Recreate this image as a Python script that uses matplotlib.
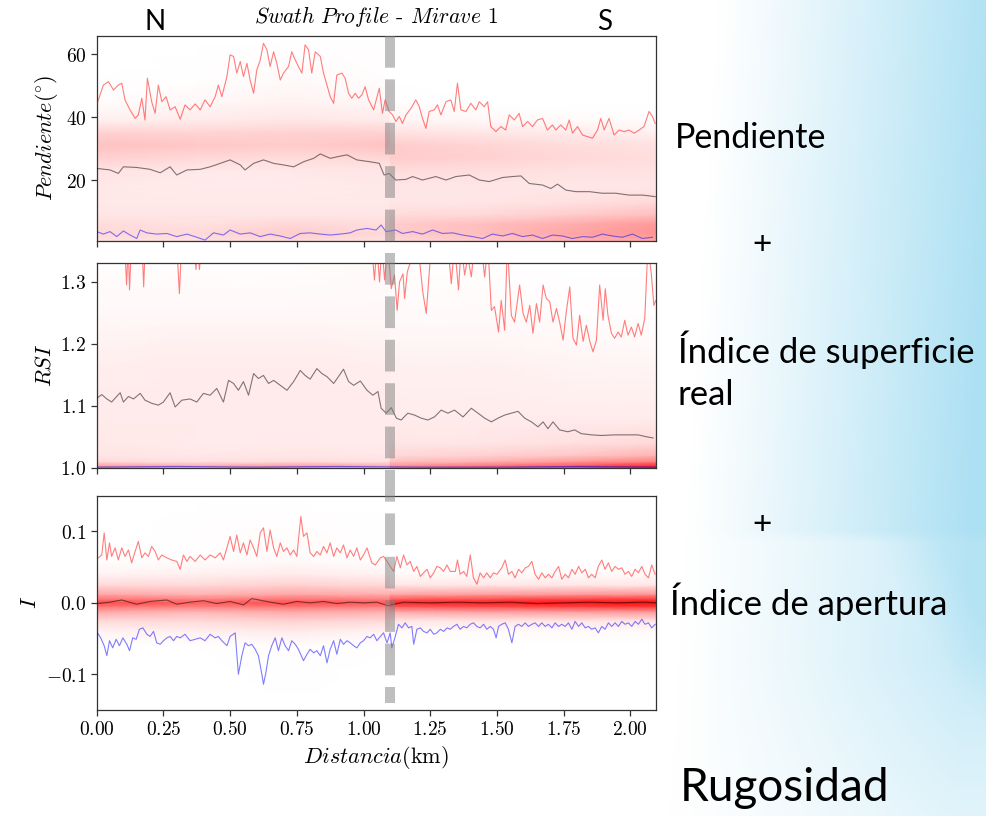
import numpy as np
import matplotlib
matplotlib.use('Agg')
import matplotlib.pyplot as plt
from matplotlib.colors import LinearSegmentedColormap
from matplotlib.lines import Line2D
from matplotlib.transforms import blended_transform_factory

# ---------------- data ----------------
# Pendiente: max (red), mean (grey), min (blue)
p_max_km = [0.000, 0.025, 0.044, 0.063, 0.081, 0.094, 0.106, 0.125, 0.144, 0.156, 0.169, 0.181, 0.190, 0.206,
            0.219, 0.231, 0.244, 0.260, 0.275, 0.294, 0.313, 0.331, 0.350, 0.369, 0.388, 0.406, 0.425, 0.444,
            0.456, 0.469, 0.488, 0.500, 0.513, 0.525, 0.538, 0.550, 0.563, 0.575, 0.588, 0.600, 0.613, 0.625,
            0.638, 0.650, 0.663, 0.675, 0.688, 0.700, 0.719, 0.731, 0.744, 0.756, 0.769, 0.781, 0.794, 0.806,
            0.819, 0.838, 0.850, 0.863, 0.875, 0.888, 0.900, 0.919, 0.931, 0.944, 0.956, 0.969, 0.981, 0.994,
            1.006, 1.019, 1.038, 1.059, 1.071, 1.081, 1.096, 1.109, 1.121, 1.134, 1.146, 1.159, 1.178, 1.196,
            1.209, 1.221, 1.234, 1.246, 1.265, 1.277, 1.290, 1.309, 1.327, 1.340, 1.352, 1.365, 1.384, 1.402,
            1.421, 1.434, 1.452, 1.465, 1.477, 1.496, 1.515, 1.533, 1.546, 1.565, 1.583, 1.596, 1.615, 1.633,
            1.652, 1.671, 1.689, 1.708, 1.721, 1.739, 1.758, 1.771, 1.783, 1.802, 1.821, 1.839, 1.858, 1.877,
            1.889, 1.902, 1.920, 1.939, 1.958, 1.977, 1.995, 2.014, 2.033, 2.051, 2.070, 2.083, 2.093]
p_max = [43.9, 50.2, 51.3, 48.6, 50.2, 50.8, 45.5, 42.3, 39.6, 40.7, 46.0, 39.1, 52.4, 44.9,
         41.2, 50.2, 44.9, 46.5, 42.3, 43.3, 39.3, 43.9, 42.3, 44.2, 42.3, 45.5, 43.3, 46.5,
         50.2, 46.5, 52.9, 59.8, 59.3, 54.0, 57.7, 52.9, 57.1, 51.8, 47.6, 55.0, 58.2, 63.5,
         61.4, 56.1, 60.8, 57.1, 51.8, 54.0, 56.1, 60.8, 58.2, 56.1, 54.0, 63.0, 61.4, 54.0,
         60.8, 59.3, 54.0, 50.2, 46.5, 44.4, 53.4, 54.0, 52.4, 47.6, 46.0, 47.6, 46.0, 47.1,
         49.7, 45.5, 42.3, 49.2, 41.2, 45.5, 41.8, 40.7, 38.6, 40.2, 38.0, 40.7, 42.8, 45.5,
         43.3, 39.6, 36.4, 41.8, 42.3, 43.9, 40.7, 44.9, 45.5, 41.8, 50.8, 42.3, 41.8, 44.4,
         42.3, 44.9, 43.3, 44.9, 37.0, 35.4, 37.0, 35.9, 40.7, 39.1, 41.2, 37.0, 38.6, 37.0,
         39.1, 39.6, 35.9, 37.5, 35.9, 37.5, 35.9, 39.1, 34.9, 37.0, 34.3, 33.8, 33.3, 35.9,
         39.6, 35.9, 39.6, 34.3, 35.9, 35.4, 35.9, 34.9, 35.9, 37.0, 41.8, 40.2, 38.0]
p_mean_km = [0.000, 0.050, 0.081, 0.100, 0.150, 0.200, 0.238, 0.275, 0.300, 0.338, 0.388, 0.425, 0.463,
             0.500, 0.538, 0.556, 0.588, 0.625, 0.663, 0.700, 0.738, 0.775, 0.813, 0.838, 0.875, 0.913,
             0.938, 0.975, 1.025, 1.059, 1.077, 1.096, 1.121, 1.159, 1.184, 1.221, 1.271, 1.309, 1.346,
             1.396, 1.434, 1.471, 1.521, 1.558, 1.590, 1.621, 1.671, 1.702, 1.727, 1.758, 1.796, 1.846,
             1.895, 1.945, 1.995, 2.045, 2.077, 2.093]
p_mean = [23.7, 23.2, 22.1, 24.2, 24.0, 23.4, 22.3, 24.2, 21.6, 23.2, 23.4, 24.2, 25.3,
          26.4, 24.8, 23.2, 25.3, 26.4, 25.3, 24.8, 24.2, 25.8, 26.9, 28.3, 26.9, 27.6,
          28.0, 26.4, 25.8, 25.3, 21.6, 22.1, 20.0, 20.2, 21.1, 20.0, 21.1, 20.0, 21.1,
          21.6, 20.0, 19.5, 20.8, 21.1, 21.3, 18.9, 18.4, 17.3, 18.7, 16.8, 16.3, 16.3,
          15.8, 15.8, 15.2, 15.2, 14.9, 14.7]
p_min_km = [0.000, 0.025, 0.050, 0.075, 0.100, 0.125, 0.150, 0.163, 0.188, 0.225, 0.263, 0.300, 0.338,
            0.375, 0.406, 0.438, 0.475, 0.500, 0.538, 0.575, 0.613, 0.650, 0.688, 0.725, 0.763, 0.800,
            0.838, 0.875, 0.913, 0.950, 0.975, 1.013, 1.047, 1.066, 1.084, 1.121, 1.146, 1.184, 1.221,
            1.259, 1.296, 1.334, 1.371, 1.409, 1.446, 1.483, 1.521, 1.558, 1.596, 1.633, 1.671, 1.708,
            1.746, 1.783, 1.821, 1.858, 1.895, 1.933, 1.970, 2.008, 2.045, 2.083]
p_min = [3.6, 2.8, 3.6, 2.0, 3.8, 2.5, 1.4, 4.1, 3.2, 2.8, 3.0, 2.0, 2.8,
         1.8, 0.9, 3.2, 2.5, 4.1, 2.8, 3.2, 2.0, 2.8, 2.2, 1.4, 3.0, 3.2,
         2.8, 2.5, 2.8, 3.2, 4.1, 4.6, 4.1, 5.7, 3.6, 4.1, 3.0, 3.6, 2.8,
         4.1, 3.0, 3.2, 2.5, 2.0, 1.4, 2.8, 2.2, 3.0, 2.0, 2.5, 1.4, 2.5,
         2.2, 1.4, 2.0, 1.8, 2.8, 2.2, 1.8, 2.8, 1.4, 1.8]

# RSI: max (red, partly above the axis), mean, min
r_max_km = [0.000, 0.105, 0.112, 0.118, 0.123, 0.130, 0.170, 0.176, 0.182, 0.300, 0.310, 0.318, 0.365,
            0.372, 0.378, 0.385, 0.392, 1.030, 1.041, 1.050, 1.060, 1.069, 1.079, 1.091, 1.104, 1.116,
            1.126, 1.135, 1.148, 1.154, 1.164, 1.172, 1.204, 1.222, 1.235, 1.241, 1.254, 1.316, 1.329,
            1.341, 1.356, 1.366, 1.379, 1.391, 1.404, 1.416, 1.441, 1.454, 1.466, 1.479, 1.491, 1.506,
            1.516, 1.529, 1.539, 1.554, 1.566, 1.585, 1.598, 1.610, 1.623, 1.635, 1.648, 1.660, 1.673,
            1.685, 1.698, 1.710, 1.723, 1.735, 1.748, 1.760, 1.773, 1.785, 1.798, 1.810, 1.823, 1.835,
            1.848, 1.860, 1.873, 1.885, 1.898, 1.906, 1.916, 1.929, 1.941, 1.954, 1.966, 1.979, 1.991,
            2.004, 2.016, 2.029, 2.041, 2.054, 2.066, 2.079, 2.088, 2.095]
r_max = [1.36, 1.36, 1.295, 1.36, 1.287, 1.36, 1.36, 1.292, 1.36, 1.36, 1.281, 1.36, 1.36,
         1.32, 1.36, 1.32, 1.36, 1.36, 1.303, 1.36, 1.300, 1.36, 1.303, 1.36, 1.289, 1.311,
         1.254, 1.300, 1.313, 1.273, 1.316, 1.327, 1.36, 1.284, 1.249, 1.284, 1.36, 1.36, 1.297,
         1.36, 1.287, 1.36, 1.311, 1.34, 1.308, 1.36, 1.36, 1.308, 1.36, 1.254, 1.260, 1.219,
         1.270, 1.222, 1.36, 1.246, 1.235, 1.295, 1.249, 1.235, 1.262, 1.217, 1.265, 1.235, 1.295,
         1.273, 1.268, 1.235, 1.257, 1.235, 1.206, 1.252, 1.292, 1.209, 1.198, 1.246, 1.204, 1.230,
         1.204, 1.187, 1.206, 1.295, 1.238, 1.289, 1.246, 1.217, 1.209, 1.219, 1.211, 1.238, 1.214,
         1.227, 1.211, 1.233, 1.214, 1.241, 1.36, 1.311, 1.262, 1.270]
r_mean_km = [0.000, 0.019, 0.038, 0.056, 0.075, 0.088, 0.100, 0.119, 0.138, 0.163, 0.181, 0.206, 0.231,
             0.250, 0.275, 0.294, 0.319, 0.350, 0.375, 0.400, 0.425, 0.450, 0.475, 0.494, 0.513, 0.531,
             0.550, 0.569, 0.588, 0.606, 0.625, 0.644, 0.663, 0.688, 0.713, 0.738, 0.763, 0.781, 0.800,
             0.825, 0.844, 0.863, 0.888, 0.906, 0.925, 0.944, 0.963, 0.988, 1.013, 1.035, 1.054, 1.066,
             1.085, 1.104, 1.123, 1.141, 1.166, 1.191, 1.216, 1.241, 1.266, 1.291, 1.316, 1.341, 1.373,
             1.404, 1.429, 1.454, 1.479, 1.504, 1.529, 1.554, 1.579, 1.604, 1.629, 1.654, 1.673, 1.691,
             1.710, 1.735, 1.766, 1.791, 1.816, 1.854, 1.891, 1.941, 1.991, 2.029, 2.060, 2.085]
r_mean = [1.112, 1.118, 1.111, 1.106, 1.115, 1.121, 1.106, 1.115, 1.111, 1.120, 1.109, 1.104, 1.101,
          1.106, 1.121, 1.098, 1.109, 1.111, 1.106, 1.120, 1.117, 1.128, 1.106, 1.141, 1.136, 1.125,
          1.139, 1.117, 1.152, 1.144, 1.149, 1.136, 1.141, 1.133, 1.125, 1.139, 1.157, 1.149, 1.143,
          1.160, 1.152, 1.147, 1.136, 1.147, 1.159, 1.139, 1.133, 1.140, 1.125, 1.117, 1.123, 1.096,
          1.088, 1.097, 1.080, 1.077, 1.088, 1.085, 1.080, 1.077, 1.082, 1.093, 1.088, 1.093, 1.082,
          1.096, 1.088, 1.080, 1.074, 1.080, 1.085, 1.088, 1.091, 1.080, 1.074, 1.066, 1.074, 1.063,
          1.074, 1.061, 1.058, 1.061, 1.055, 1.053, 1.052, 1.053, 1.053, 1.053, 1.050, 1.048]
r_min_km = [0.0, 0.3, 0.6, 0.9, 1.2, 1.5, 1.8, 2.1]
r_min = [1.001, 1.002, 1.001, 1.002, 1.001, 1.001, 1.002, 1.001]

# Indice de apertura: max, mean, min
i_max_km = [0.006, 0.019, 0.028, 0.038, 0.048, 0.056, 0.069, 0.081, 0.094, 0.106, 0.119, 0.131, 0.144,
            0.156, 0.169, 0.181, 0.194, 0.206, 0.219, 0.231, 0.244, 0.263, 0.281, 0.300, 0.313, 0.325,
            0.338, 0.350, 0.369, 0.388, 0.406, 0.425, 0.444, 0.463, 0.475, 0.488, 0.500, 0.513, 0.525,
            0.538, 0.550, 0.563, 0.575, 0.588, 0.600, 0.613, 0.625, 0.638, 0.650, 0.663, 0.675, 0.688,
            0.700, 0.713, 0.725, 0.738, 0.750, 0.765, 0.775, 0.788, 0.800, 0.813, 0.825, 0.838, 0.850,
            0.863, 0.875, 0.888, 0.900, 0.913, 0.925, 0.938, 0.950, 0.963, 0.975, 0.988, 1.000, 1.013,
            1.031, 1.044, 1.063, 1.075, 1.088, 1.100, 1.113, 1.125, 1.138, 1.150, 1.163, 1.175, 1.188,
            1.200, 1.213, 1.225, 1.238, 1.250, 1.263, 1.275, 1.288, 1.300, 1.313, 1.325, 1.344, 1.352,
            1.362, 1.375, 1.387, 1.400, 1.412, 1.425, 1.437, 1.450, 1.462, 1.475, 1.487, 1.500, 1.518,
            1.531, 1.543, 1.556, 1.568, 1.581, 1.593, 1.606, 1.618, 1.631, 1.643, 1.656, 1.668, 1.681,
            1.693, 1.706, 1.718, 1.731, 1.743, 1.756, 1.768, 1.781, 1.793, 1.806, 1.818, 1.831, 1.843,
            1.855, 1.868, 1.880, 1.893, 1.905, 1.918, 1.930, 1.943, 1.955, 1.968, 1.980, 1.993, 2.005,
            2.018, 2.030, 2.043, 2.055, 2.068, 2.080, 2.093]
i_max = [0.063, 0.067, 0.098, 0.060, 0.084, 0.065, 0.077, 0.060, 0.077, 0.065, 0.074, 0.056, 0.072,
         0.086, 0.063, 0.070, 0.065, 0.079, 0.072, 0.060, 0.067, 0.063, 0.060, 0.058, 0.047, 0.067,
         0.058, 0.065, 0.058, 0.067, 0.060, 0.067, 0.063, 0.070, 0.060, 0.077, 0.093, 0.072, 0.095,
         0.070, 0.084, 0.067, 0.088, 0.077, 0.065, 0.098, 0.105, 0.072, 0.102, 0.077, 0.065, 0.084,
         0.072, 0.077, 0.067, 0.074, 0.065, 0.121, 0.093, 0.098, 0.070, 0.065, 0.072, 0.067, 0.079,
         0.070, 0.084, 0.065, 0.077, 0.070, 0.081, 0.063, 0.074, 0.065, 0.077, 0.060, 0.067, 0.077,
         0.056, 0.053, 0.063, 0.065, 0.058, 0.051, 0.044, 0.065, 0.049, 0.067, 0.053, 0.058, 0.044,
         0.051, 0.037, 0.042, 0.047, 0.035, 0.042, 0.051, 0.049, 0.044, 0.053, 0.044, 0.044, 0.060,
         0.040, 0.044, 0.037, 0.067, 0.035, 0.026, 0.042, 0.035, 0.042, 0.035, 0.042, 0.040, 0.049,
         0.060, 0.040, 0.044, 0.035, 0.047, 0.042, 0.049, 0.051, 0.058, 0.040, 0.033, 0.042, 0.035,
         0.040, 0.035, 0.044, 0.051, 0.033, 0.040, 0.035, 0.047, 0.040, 0.051, 0.042, 0.047, 0.035,
         0.040, 0.035, 0.051, 0.060, 0.047, 0.056, 0.044, 0.051, 0.047, 0.049, 0.040, 0.044, 0.037,
         0.047, 0.042, 0.051, 0.040, 0.035, 0.053, 0.040]
i_mean_km = [0.0, 0.05, 0.094, 0.15, 0.2, 0.263, 0.3, 0.35, 0.4, 0.45, 0.5, 0.55, 0.581, 0.65, 0.7, 0.75,
             0.8, 0.85, 0.9, 0.95, 1.0, 1.05, 1.09, 1.15, 1.25, 1.35, 1.45, 1.55, 1.65, 1.75, 1.85, 1.95,
             2.05, 2.1]
i_mean = [-0.001, 0.001, 0.004, -0.002, 0.002, 0.004, -0.002, 0.001, 0.003, -0.001, 0.002, -0.003, 0.006,
          0.001, -0.002, 0.002, 0.0, 0.002, -0.001, 0.001, 0.0, 0.001, -0.004, 0.001, 0.0, 0.001, 0.0,
          0.001, -0.001, 0.0, 0.001, 0.0, 0.001, 0.0]
i_min_km = [0.003, 0.015, 0.028, 0.038, 0.048, 0.060, 0.073, 0.085, 0.098, 0.113, 0.123, 0.135, 0.148,
            0.160, 0.173, 0.188, 0.200, 0.213, 0.225, 0.238, 0.250, 0.263, 0.275, 0.288, 0.300, 0.313,
            0.331, 0.350, 0.369, 0.388, 0.406, 0.425, 0.444, 0.456, 0.469, 0.488, 0.500, 0.519, 0.531,
            0.544, 0.556, 0.569, 0.581, 0.594, 0.606, 0.619, 0.625, 0.634, 0.644, 0.656, 0.669, 0.681,
            0.694, 0.706, 0.719, 0.731, 0.744, 0.756, 0.775, 0.788, 0.800, 0.813, 0.825, 0.838, 0.850,
            0.863, 0.875, 0.888, 0.900, 0.913, 0.925, 0.938, 0.950, 0.963, 0.975, 0.988, 1.000, 1.013,
            1.025, 1.038, 1.050, 1.063, 1.075, 1.088, 1.100, 1.106, 1.119, 1.131, 1.144, 1.156, 1.169,
            1.181, 1.188, 1.200, 1.213, 1.225, 1.238, 1.250, 1.263, 1.275, 1.288, 1.300, 1.313, 1.325,
            1.337, 1.350, 1.362, 1.375, 1.387, 1.400, 1.412, 1.425, 1.437, 1.450, 1.462, 1.475, 1.487,
            1.497, 1.506, 1.518, 1.531, 1.543, 1.556, 1.568, 1.581, 1.593, 1.606, 1.618, 1.631, 1.643,
            1.656, 1.668, 1.681, 1.693, 1.706, 1.718, 1.731, 1.743, 1.756, 1.768, 1.781, 1.793, 1.806,
            1.818, 1.831, 1.843, 1.855, 1.868, 1.880, 1.893, 1.905, 1.918, 1.930, 1.943, 1.955, 1.968,
            1.980, 1.993, 2.005, 2.018, 2.030, 2.043, 2.055, 2.068, 2.080, 2.093]
i_min = [-0.042, -0.049, -0.060, -0.074, -0.053, -0.063, -0.051, -0.060, -0.049, -0.058, -0.067, -0.049, -0.051,
         -0.037, -0.035, -0.044, -0.047, -0.040, -0.056, -0.058, -0.053, -0.049, -0.047, -0.053, -0.047, -0.049,
         -0.044, -0.053, -0.051, -0.049, -0.053, -0.044, -0.049, -0.047, -0.053, -0.060, -0.047, -0.042, -0.100,
         -0.074, -0.056, -0.060, -0.058, -0.065, -0.074, -0.100, -0.114, -0.098, -0.074, -0.060, -0.049, -0.067,
         -0.049, -0.060, -0.067, -0.053, -0.058, -0.065, -0.081, -0.072, -0.065, -0.070, -0.067, -0.074, -0.060,
         -0.084, -0.065, -0.053, -0.072, -0.051, -0.058, -0.053, -0.056, -0.060, -0.063, -0.056, -0.053, -0.047,
         -0.049, -0.044, -0.053, -0.047, -0.042, -0.056, -0.042, -0.063, -0.047, -0.030, -0.035, -0.028, -0.035,
         -0.033, -0.058, -0.037, -0.035, -0.040, -0.042, -0.037, -0.044, -0.042, -0.037, -0.040, -0.035, -0.037,
         -0.033, -0.030, -0.037, -0.033, -0.035, -0.030, -0.028, -0.033, -0.035, -0.030, -0.037, -0.033, -0.037,
         -0.049, -0.033, -0.030, -0.028, -0.037, -0.056, -0.033, -0.030, -0.033, -0.028, -0.033, -0.030, -0.028,
         -0.033, -0.028, -0.033, -0.030, -0.035, -0.028, -0.033, -0.030, -0.033, -0.028, -0.037, -0.026, -0.033,
         -0.028, -0.035, -0.033, -0.037, -0.035, -0.042, -0.033, -0.037, -0.028, -0.033, -0.028, -0.033, -0.026,
         -0.030, -0.028, -0.033, -0.026, -0.030, -0.023, -0.030, -0.028, -0.035, -0.030]

# density of the swath (0 = white, 1 = full red), west and east of the 1.1 km break
dens_km_w = [0.0, 0.37, 0.73, 1.1]
dens_km_e = [1.1, 1.43, 1.77, 2.1]

p_dens_y = [0.7, 3, 6, 9, 13, 18, 23, 27, 31, 35, 39, 45, 52, 66]
p_dens_w = [[0.12, 0.12, 0.15, 0.12], [0.15, 0.15, 0.20, 0.15], [0.14, 0.12, 0.16, 0.13],
            [0.10, 0.10, 0.10, 0.10], [0.09, 0.09, 0.09, 0.09], [0.09, 0.08, 0.08, 0.09],
            [0.11, 0.09, 0.09, 0.10], [0.18, 0.15, 0.14, 0.16], [0.24, 0.22, 0.20, 0.24],
            [0.18, 0.17, 0.18, 0.18], [0.06, 0.08, 0.10, 0.08], [0.01, 0.03, 0.05, 0.03],
            [0.00, 0.005, 0.02, 0.01], [0.0, 0.0, 0.0, 0.0]]
p_dens_e = [[0.15, 0.20, 0.30, 0.35], [0.20, 0.25, 0.35, 0.42], [0.20, 0.25, 0.32, 0.40],
            [0.14, 0.15, 0.20, 0.25], [0.10, 0.10, 0.12, 0.15], [0.10, 0.10, 0.10, 0.10],
            [0.14, 0.13, 0.12, 0.12], [0.20, 0.18, 0.15, 0.13], [0.20, 0.17, 0.14, 0.12],
            [0.12, 0.10, 0.08, 0.06], [0.04, 0.03, 0.02, 0.01], [0.01, 0.0, 0.0, 0.0],
            [0.0, 0.0, 0.0, 0.0], [0.0, 0.0, 0.0, 0.0]]

r_dens_y = [1.0, 1.004, 1.01, 1.02, 1.04, 1.08, 1.12, 1.16, 1.2, 1.25, 1.33]
r_dens_w = [[0.45, 0.40, 0.45, 0.35], [0.35, 0.30, 0.35, 0.30], [0.15, 0.12, 0.14, 0.12],
            [0.10, 0.09, 0.10, 0.09], [0.09, 0.08, 0.08, 0.08], [0.08, 0.08, 0.08, 0.08],
            [0.08, 0.08, 0.08, 0.08], [0.07, 0.08, 0.08, 0.07], [0.05, 0.06, 0.06, 0.05],
            [0.03, 0.03, 0.03, 0.03], [0.01, 0.01, 0.01, 0.02]]
r_dens_e = [[0.50, 0.60, 0.75, 0.90], [0.40, 0.50, 0.60, 0.80], [0.25, 0.30, 0.40, 0.50],
            [0.15, 0.18, 0.22, 0.30], [0.10, 0.10, 0.12, 0.15], [0.08, 0.08, 0.08, 0.08],
            [0.07, 0.07, 0.06, 0.06], [0.06, 0.06, 0.05, 0.05], [0.04, 0.04, 0.03, 0.02],
            [0.02, 0.02, 0.01, 0.01], [0.01, 0.01, 0.0, 0.0]]

i_dens_y = [-0.15, -0.06, -0.04, -0.025, -0.012, -0.005, 0.0, 0.005, 0.012, 0.025, 0.04, 0.06, 0.15]
i_dens_w = [[0.0, 0.0, 0.0, 0.0], [0.0, 0.0, 0.01, 0.0], [0.05, 0.06, 0.08, 0.05],
            [0.15, 0.15, 0.18, 0.15], [0.35, 0.30, 0.35, 0.32], [0.55, 0.50, 0.55, 0.50],
            [0.70, 0.62, 0.68, 0.65], [0.55, 0.50, 0.55, 0.50], [0.35, 0.30, 0.35, 0.32],
            [0.15, 0.15, 0.18, 0.15], [0.05, 0.06, 0.08, 0.05], [0.0, 0.01, 0.02, 0.0],
            [0.0, 0.0, 0.0, 0.0]]
i_dens_e = [[0.0, 0.0, 0.0, 0.0], [0.0, 0.0, 0.0, 0.0], [0.02, 0.02, 0.02, 0.02],
            [0.10, 0.10, 0.10, 0.10], [0.35, 0.38, 0.40, 0.42], [0.65, 0.70, 0.75, 0.78],
            [0.85, 0.88, 0.92, 0.95], [0.65, 0.70, 0.75, 0.78], [0.35, 0.38, 0.40, 0.42],
            [0.10, 0.10, 0.10, 0.10], [0.02, 0.02, 0.02, 0.02], [0.0, 0.0, 0.0, 0.0],
            [0.0, 0.0, 0.0, 0.0]]

break_km = 1.1
x_ticks = [0.0, 0.25, 0.5, 0.75, 1.0, 1.25, 1.5, 1.75, 2.0]
x_tick_labels = ['0.00', '0.25', '0.50', '0.75', '1.00', '1.25', '1.50', '1.75', '2.00']

# ---------------- style ----------------
W, H = 986, 816
plt.rcParams['mathtext.fontset'] = 'cm'
plt.rcParams['font.family'] = ['Lato', 'DejaVu Sans']
plt.rcParams['axes.linewidth'] = 0.9
plt.rcParams['axes.edgecolor'] = '#333333'

cmap = LinearSegmentedColormap.from_list('white_red', ['#ffffff', '#ff0000'])

fig = plt.figure(figsize=(W / 100, H / 100), dpi=100)

# slide background: white on the left, light blue towards the right edge
bg = fig.add_axes([0, 0, 1, 1], zorder=-10)
xx, yy = np.meshgrid(np.arange(W), np.arange(H))
a = np.clip((xx - 700 + 0.06 * (yy - 300)) / (W - 700), 0, 1) ** 1.1
# lower part of the slide: softer, with a faint lighter wedge along a diagonal
low = np.clip((yy - 530) / 12, 0, 1)
side = np.clip((xx - (900 + (yy - 535) * 0.6)) / 70 + 0.5, 0, 1)
a = a * (1 - low * (0.35 - 0.25 * side))
a = a * (1 - 0.45 * np.clip((yy - 660) / 156, 0, 1))
blue = np.array([172, 224, 243]) / 255.0
img = 1 - a[..., None] * (1 - blue)
bg.imshow(img, aspect='auto', extent=[0, 1, 0, 1], origin='upper')
bg.axis('off')


def px_axes(top, bottom, left=96.7, right=655.7):
    return fig.add_axes([left / W, 1 - bottom / H, (right - left) / W, (bottom - top) / H])


ax1 = px_axes(35.7, 240.7)
ax2 = px_axes(263.3, 467.7)
ax3 = px_axes(495.7, 710.0)

panels = [
    (ax1, p_dens_y, p_dens_w, p_dens_e, (p_max_km, p_max), (p_mean_km, p_mean), (p_min_km, p_min), (0.7, 65.9)),
    (ax2, r_dens_y, r_dens_w, r_dens_e, (r_max_km, r_max), (r_mean_km, r_mean), (r_min_km, r_min), (1.0, 1.33)),
    (ax3, i_dens_y, i_dens_w, i_dens_e, (i_max_km, i_max), (i_mean_km, i_mean), (i_min_km, i_min), (-0.15, 0.15)),
]

for ax, dy, dw, de, mx, mn, lo, ylim in panels:
    ax.set_facecolor('white')
    for kms, vals in ((dens_km_w, dw), (dens_km_e, de)):
        X, Y = np.meshgrid(kms, dy)
        ax.pcolormesh(X, Y, np.array(vals), shading='gouraud', cmap=cmap, vmin=0, vmax=1, zorder=1)
    ax.plot(mx[0], mx[1], color='red', alpha=0.5, lw=0.8, zorder=3)
    ax.plot(mn[0], mn[1], color='black', alpha=0.5, lw=0.8, zorder=3)
    ax.plot(lo[0], lo[1], color='blue', alpha=0.5, lw=0.8, zorder=3)
    ax.set_xlim(0, 2.095)
    ax.set_ylim(*ylim)
    ax.set_xticks(x_ticks)
    ax.tick_params(direction='out', length=4, width=0.9, color='#333333', labelsize=14)

ax1.set_xticklabels([])
ax2.set_xticklabels([])
ax3.set_xticklabels(['$%s$' % t for t in x_tick_labels])

ax1.set_yticks([20, 40, 60])
ax1.set_yticklabels(['$20$', '$40$', '$60$'])
ax2.set_yticks([1.0, 1.1, 1.2, 1.3])
ax2.set_yticklabels(['$1.0$', '$1.1$', '$1.2$', '$1.3$'])
ax3.set_yticks([-0.1, 0.0, 0.1])
ax3.set_yticklabels(['$-0.1$', '$0.0$', '$0.1$'])

ax1.set_ylabel(r'$Pendiente(^{\circ})$', fontsize=16)
ax2.set_ylabel(r'$RSI$', fontsize=16)
ax3.set_ylabel(r'$I$', fontsize=16)
ax3.set_xlabel(r'$Distancia\mathrm{(km)}$', fontsize=16)
ax1.set_title(r'$Swath\ Profile$ - $Mirave$ 1', fontsize=15.5, pad=9, family='cmr10')

# grey dashed line marking the break, across all three panels
tr = blended_transform_factory(ax3.transData, fig.transFigure)
fig.add_artist(Line2D([break_km, break_km], [1 - 36 / H, 1 - 703 / H], transform=tr,
                      color='gray', alpha=0.5, lw=7.2, linestyle=(0, (3.17, 1.17)), zorder=5))

# slide texts
fig.text(155 / W, 1 - 22 / H, 'N', fontsize=20, ha='center', va='center')
fig.text(605 / W, 1 - 22 / H, 'S', fontsize=20, ha='center', va='center')
fig.text(675 / W, 1 - 138 / H, 'Pendiente', fontsize=24.5, ha='left', va='center')
fig.text(762 / W, 1 - 245 / H, '+', fontsize=24, ha='center', va='center')
fig.text(678 / W, 1 - 350 / H, 'Índice de superficie', fontsize=25, ha='left', va='center')
fig.text(678 / W, 1 - 395 / H, 'real', fontsize=25, ha='left', va='center')
fig.text(762 / W, 1 - 525 / H, '+', fontsize=24, ha='center', va='center')
fig.text(670 / W, 1 - 602 / H, 'Índice de apertura', fontsize=25, ha='left', va='center')
fig.text(680 / W, 1 - 788 / H, 'Rugosidad', fontsize=33, ha='left', va='center')

fig.savefig('out.png', dpi=100)
